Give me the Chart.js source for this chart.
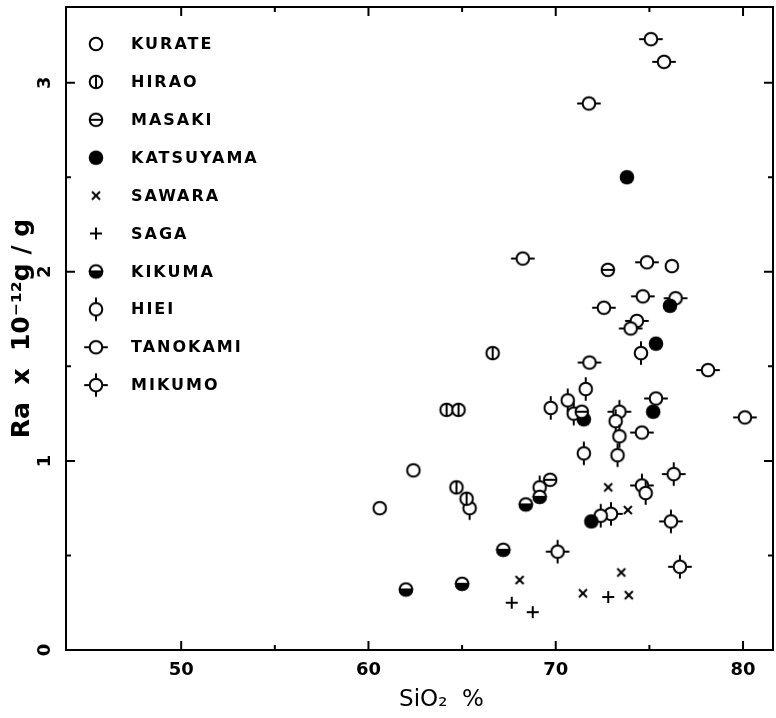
<!DOCTYPE html>
<html>
<head>
<meta charset="utf-8">
<script src="https://cdn.jsdelivr.net/npm/chart.js@4.4.1/dist/chart.umd.min.js"></script>
<style>
  html, body { margin: 0; padding: 0; background: #fff; }
</style>
</head>
<body>
<canvas id="chart" width="776" height="718"></canvas>
<script>
// ---- data: [SiO2 %, Ra x 10^-12 g/g] ----
const names = ["KURATE", "HIRAO", "MASAKI", "KATSUYAMA", "SAWARA", "SAGA", "KIKUMA", "HIEI", "TANOKAMI", "MIKUMO"];

const kurate = [[60.6, 0.75], [62.4, 0.95], [76.2, 2.03]];
const hirao = [[64.17, 1.27], [64.81, 1.27], [66.63, 1.57], [64.7, 0.86], [65.24, 0.80]];
const masaki = [[72.78, 2.01], [71.39, 1.26], [69.7, 0.90]];
const katsuyama = [[73.8, 2.50], [76.1, 1.82], [75.35, 1.62], [75.2, 1.26], [71.5, 1.22], [71.9, 0.68]];
const sawara = [[68.07, 0.37], [71.45, 0.30], [73.9, 0.29], [73.5, 0.41], [73.85, 0.74], [72.8, 0.86]];
const saga = [[67.65, 0.25], [68.77, 0.20], [72.8, 0.28]];
const kikuma = [[62.0, 0.32], [65.0, 0.35], [67.2, 0.53], [68.4, 0.77], [69.14, 0.81]];
const hiei = [[65.4, 0.75], [69.14, 0.86], [69.73, 1.28], [70.64, 1.32], [70.96, 1.25], [71.6, 1.38],
  [71.5, 1.04], [73.2, 1.21], [73.4, 1.13], [73.3, 1.03], [74.55, 1.57], [74.8, 0.83], [72.4, 0.71]];
const tanokami = [[75.08, 3.23], [75.78, 3.11], [71.77, 2.89], [68.24, 2.07], [74.87, 2.05], [72.57, 1.81],
  [74.65, 1.87], [76.4, 1.86], [74.33, 1.74], [74.0, 1.70], [71.8, 1.52], [78.13, 1.48], [80.1, 1.23],
  [75.35, 1.33], [74.6, 1.15]];
const mikumo = [[73.4, 1.26], [74.6, 0.87], [76.3, 0.93], [76.15, 0.68], [76.63, 0.44], [70.1, 0.52], [72.95, 0.72]];

const series = [kurate, hirao, masaki, katsuyama, sawara, saga, kikuma, hiei, tanokami, mikumo];

const xTicks = [50, 55, 60, 65, 70, 75, 80];
const yTicks = [0, 0.5, 1, 1.5, 2, 2.5, 3];

// ---- marker glyphs ----
const R = 6.3;
function marker(kind) {
  const c = document.createElement("canvas");
  c.width = 30; c.height = 30;
  const g = c.getContext("2d");
  g.translate(15, 15);
  g.strokeStyle = "#000";
  g.fillStyle = "#000";
  g.lineWidth = 2;
  const ring = () => {
    g.beginPath(); g.arc(0, 0, R, 0, Math.PI * 2);
    g.fillStyle = "#fff"; g.fill(); g.fillStyle = "#000"; g.stroke();
  };
  const line = (x1, y1, x2, y2) => { g.beginPath(); g.moveTo(x1, y1); g.lineTo(x2, y2); g.stroke(); };
  const out = R + 5.5;
  switch (kind) {
    case "KURATE": ring(); break;
    case "HIRAO": ring(); line(0, -R, 0, R); break;
    case "MASAKI": ring(); line(-R, 0, R, 0); break;
    case "KATSUYAMA": g.beginPath(); g.arc(0, 0, R + 1, 0, Math.PI * 2); g.fill(); break;
    case "SAWARA": line(-4, -4, 4, 4); line(-4, 4, 4, -4); break;
    case "SAGA": line(-6, 0, 6, 0); line(0, -6, 0, 6); break;
    case "KIKUMA":
      ring();
      g.beginPath(); g.arc(0, 0, R, 0, Math.PI); g.closePath(); g.fill(); g.stroke();
      break;
    case "HIEI": ring(); line(0, -R, 0, -out); line(0, R, 0, out); break;
    case "TANOKAMI": ring(); line(-R, 0, -out, 0); line(R, 0, out, 0); break;
    case "MIKUMO":
      ring(); line(0, -R, 0, -out); line(0, R, 0, out); line(-R, 0, -out, 0); line(R, 0, out, 0);
      break;
  }
  return c;
}
const glyphs = names.map(marker);

// ---- frame with inward ticks on all four sides, plus the inset legend ----
const framePlugin = {
  id: "frame",
  afterDraw(chart) {
    const { ctx, chartArea: a, scales: { x, y } } = chart;
    ctx.save();
    ctx.strokeStyle = "#000";
    ctx.lineWidth = 2;
    ctx.strokeRect(a.left, a.top, a.right - a.left, a.bottom - a.top);
    ctx.beginPath();
    xTicks.forEach(v => {
      const px = x.getPixelForValue(v);
      const len = v % 10 === 0 ? 9 : 5;
      ctx.moveTo(px, a.bottom); ctx.lineTo(px, a.bottom - len);
      ctx.moveTo(px, a.top); ctx.lineTo(px, a.top + len);
    });
    yTicks.forEach(v => {
      const py = y.getPixelForValue(v);
      const len = v % 1 === 0 ? 9 : 5;
      ctx.moveTo(a.left, py); ctx.lineTo(a.left + len, py);
      ctx.moveTo(a.right, py); ctx.lineTo(a.right - len, py);
    });
    ctx.stroke();

    ctx.font = "bold 16px 'DejaVu Sans'";
    ctx.letterSpacing = "2px";
    ctx.fillStyle = "#000";
    ctx.textBaseline = "middle";
    chart.data.datasets.forEach((ds, i) => {
      const ly = 44 + i * 37.9;
      ctx.drawImage(ds.pointStyle, 96 - 15, ly - 15);
      ctx.fillText(ds.label, 131, ly + 1);
    });
    ctx.restore();
  }
};

new Chart(document.getElementById("chart"), {
  type: "scatter",
  data: {
    datasets: names.map((n, i) => ({
      label: n,
      data: series[i].map(p => ({ x: p[0], y: p[1] })),
      pointStyle: glyphs[i],
      pointRadius: 7,
      pointHoverRadius: 7
    }))
  },
  options: {
    responsive: false,
    animation: false,
    layout: { autoPadding: false, padding: { top: 7, right: 3, left: 0, bottom: 0 } },
    plugins: { legend: { display: false }, tooltip: { enabled: false } },
    scales: {
      x: {
        type: "linear",
        min: 43.85,
        max: 81.6,
        afterBuildTicks: s => { s.ticks = xTicks.map(v => ({ value: v })); },
        afterFit: s => { s.height = 68; s.paddingLeft = 0; s.paddingRight = 0; },
        grid: { display: false, drawTicks: false },
        border: { display: false },
        ticks: {
          padding: 10,
          color: "#000",
          font: { family: "DejaVu Sans", weight: "bold", size: 18 },
          callback: v => (v % 10 === 0 ? v : "")
        },
        title: {
          display: true,
          text: "      SiO₂  %",
          color: "#000",
          padding: { top: 0, bottom: 4 },
          font: { family: "DejaVu Sans", size: 23 }
        }
      },
      y: {
        type: "linear",
        min: 0,
        max: 3.4,
        afterBuildTicks: s => { s.ticks = yTicks.map(v => ({ value: v })); },
        afterFit: s => { s.width = 66; s.paddingTop = 0; s.paddingBottom = 0; },
        grid: { display: false, drawTicks: false },
        border: { display: false },
        ticks: {
          padding: 14,
          minRotation: 90,
          maxRotation: 90,
          crossAlign: "center",
          color: "#000",
          font: { family: "DejaVu Sans", weight: "bold", size: 18 },
          callback: v => (v % 1 === 0 ? v : "")
        },
        title: {
          display: true,
          text: "Ra  x  10⁻¹²g / g",
          color: "#000",
          padding: { top: 7, bottom: 0 },
          font: { family: "DejaVu Sans", weight: "bold", size: 25 }
        }
      }
    }
  },
  plugins: [framePlugin]
});
</script>
</body>
</html>
